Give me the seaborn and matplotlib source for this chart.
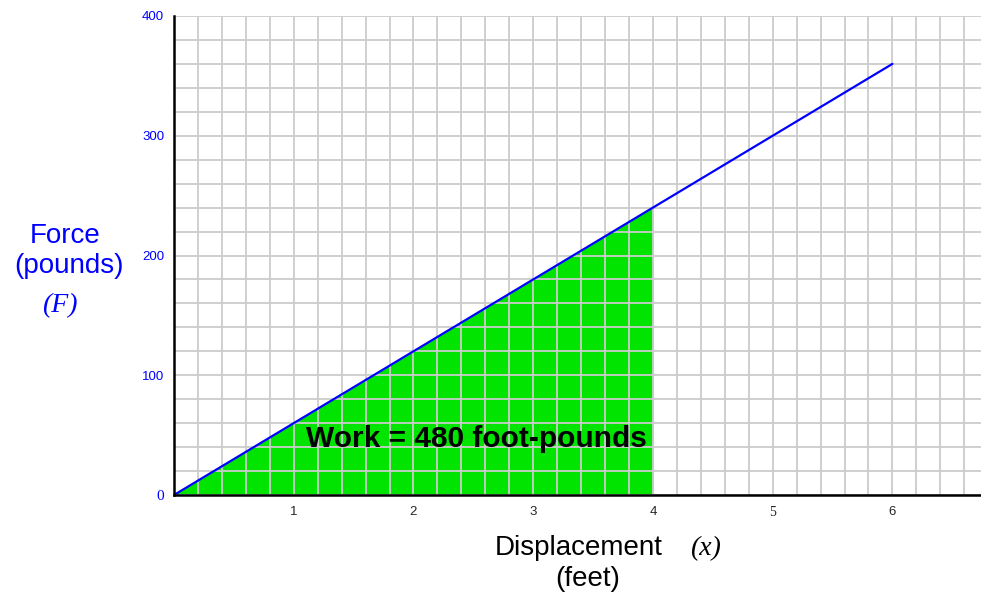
import numpy as np
import pandas as pd
import matplotlib
matplotlib.use("Agg")
import matplotlib.pyplot as plt
import seaborn as sns

# data
displacement = [0, 6]        # feet
force = [0, 360]             # pounds
work_x = [0, 4]              # shaded interval (feet)
work_f = [0, 240]
x_ticks = [1, 2, 3, 4, 5, 6]
y_ticks = [0, 100, 200, 300, 400]

df = pd.DataFrame({"x": displacement, "F": force})

sns.set_style("white")
plt.rcParams['font.family'] = ['Liberation Sans', 'DejaVu Sans']

fig = plt.figure(figsize=(9.81, 5.92), dpi=100)
ax = fig.add_axes([174 / 981, 1 - 495 / 592, 807 / 981, 479 / 592])

ax.set_xlim(0, 6.74)
ax.set_ylim(0, 400)

# shaded work area
ax.fill_between(work_x, work_f, color='#00e400', zorder=1, linewidth=0)

sns.lineplot(data=df, x="x", y="F", ax=ax, color='#0000ff', linewidth=1.6, zorder=3)

# ticks + grid (grid drawn above the fill)
ax.set_xticks(x_ticks)
ax.set_xticklabels([str(t) for t in x_ticks])
ax.set_yticks(y_ticks)
ax.set_yticklabels([str(t) for t in y_ticks])
ax.set_xticks(np.arange(0, 6.61, 0.2), minor=True)
ax.set_yticks(np.arange(0, 401, 20), minor=True)
ax.set_axisbelow(False)
ax.grid(which='both', color='#cccccc', linewidth=1.3)

ax.tick_params(axis='both', which='both', length=0, labelsize=9.5)
ax.tick_params(axis='x', pad=8)
ax.tick_params(axis='y', pad=7, labelcolor='#0000ff')
for lab in ax.get_xticklabels():
    if lab.get_text() == '5':
        lab.set_family('Liberation Serif')
        lab.set_fontsize(10)
for lab in ax.get_yticklabels():
    if lab.get_text() == '0':
        lab.set_family('Liberation Serif')
        lab.set_fontsize(11)

ax.set_xlabel('')
ax.set_ylabel('')
for s in ['top', 'right']:
    ax.spines[s].set_visible(False)
for s in ['left', 'bottom']:
    ax.spines[s].set_color('black')
    ax.spines[s].set_linewidth(1.8)
    ax.spines[s].set_zorder(4)

ax.text(2.53, 40, 'Work = 480 foot-pounds', fontsize=21.5, fontweight='bold',
        ha='center', va='baseline', color='black', zorder=5)

# axis titles
fs = 20
fig.text(65.5 / 981, 1 - 243 / 592, 'Force', color='#0000ff', fontsize=fs, ha='center', va='baseline')
fig.text(69.5 / 981, 1 - 273 / 592, '(pounds)', color='#0000ff', fontsize=fs, ha='center', va='baseline')
fig.text(60 / 981, 1 - 312 / 592, '(F)', color='#0000ff', fontsize=fs, ha='center', va='baseline',
         family='Liberation Serif', style='italic')
fig.text(579 / 981, 1 - 555 / 592, 'Displacement', color='black', fontsize=fs, ha='center', va='baseline')
fig.text(705 / 981, 1 - 555 / 592, '(x)', color='black', fontsize=fs, ha='center', va='baseline',
         family='Liberation Serif', style='italic')
fig.text(588 / 981, 1 - 586 / 592, '(feet)', color='black', fontsize=fs, ha='center', va='baseline')

fig.savefig('out.png', dpi=100)
